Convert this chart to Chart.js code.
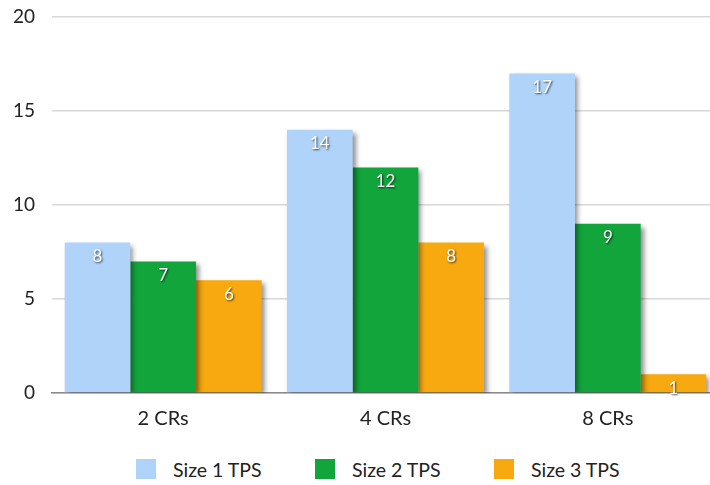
<!DOCTYPE html>
<html>
<head>
<meta charset="utf-8">
<script src="https://cdn.jsdelivr.net/npm/chart.js@4"></script>
<style>
  html, body { margin: 0; padding: 0; background: #fff; overflow: hidden; }
  #wrap { position: relative; width: 722px; height: 445px; }
  #legend { position: absolute; left: 136px; top: 459px; display: flex; font-family: Lato, "Open Sans", sans-serif; font-size: 19.5px; color: #222; }
  .item { display: flex; align-items: center; width: 179px; height: 20px; }
  .box { width: 20px; height: 20px; margin-right: 17px; }
</style>
</head>
<body>
<div id="wrap"><canvas id="tpsChart"></canvas></div>
<div id="legend"></div>
<script>
const categories = ['2 CRs', '4 CRs', '8 CRs'];
const seriesNames = ['Size 1 TPS', 'Size 2 TPS', 'Size 3 TPS'];
const size1 = [8, 14, 17];
const size2 = [7, 12, 9];
const size3 = [6, 8, 1];
const yTicks = [0, 5, 10, 15, 20];

const colors = ['#b0d4f9', '#12a53c', '#f7a90f'];
const FONT = 'Lato, "Open Sans", sans-serif';

// drop shadow under each bar
const barShadow = {
    id: 'barShadow',
    beforeDatasetDraw(chart) {
        const ctx = chart.ctx;
        ctx.save();
        ctx.shadowColor = 'rgba(0, 0, 0, 0.45)';
        ctx.shadowOffsetX = 3;
        ctx.shadowOffsetY = 3;
        ctx.shadowBlur = 5;
    },
    afterDatasetDraw(chart) {
        chart.ctx.restore();
    }
};

// white value labels inside the top of the bars
const valueLabels = {
    id: 'valueLabels',
    afterDatasetsDraw(chart) {
        const ctx = chart.ctx;
        ctx.save();
        ctx.font = '17px ' + FONT;
        ctx.fillStyle = '#fff';
        ctx.textAlign = 'center';
        ctx.textBaseline = 'middle';
        ctx.shadowColor = 'rgba(0, 0, 0, 0.7)';
        ctx.shadowOffsetX = 1;
        ctx.shadowOffsetY = 1;
        ctx.shadowBlur = 2;
        chart.data.datasets.forEach((ds, i) => {
            chart.getDatasetMeta(i).data.forEach((bar, j) => {
                ctx.fillText(String(ds.data[j]), bar.x, bar.y + 14);
            });
        });
        ctx.restore();
    }
};

const ctx = document.getElementById('tpsChart').getContext('2d');
new Chart(ctx, {
    type: 'bar',
    data: {
        labels: categories,
        datasets: [size1, size2, size3].map((d, i) => ({
            label: seriesNames[i],
            data: d,
            backgroundColor: colors[i],
            borderWidth: 0
        }))
    },
    options: {
        responsive: true,
        maintainAspectRatio: false,
        animation: false,
        categoryPercentage: 0.886,
        barPercentage: 1.0,
        layout: { padding: { top: 17, right: 3, bottom: 0, left: 0 } },
        plugins: {
            legend: { display: false },
            tooltip: { enabled: false }
        },
        scales: {
            x: {
                grid: { display: false, drawTicks: false },
                border: { display: true, color: '#8a8a8a', width: 1.5 },
                ticks: { color: '#222', padding: 14, font: { family: FONT, size: 20 } }
            },
            y: {
                min: 0,
                max: 20,
                afterFit(scale) {
                    scale.width = 52;
                    scale.paddingTop = 0;
                    scale.paddingBottom = 0;
                },
                afterBuildTicks(scale) { scale.ticks = yTicks.map(v => ({ value: v })); },
                grid: { color: '#d8d8d8', lineWidth: 1.5, drawTicks: false },
                border: { display: false },
                ticks: { color: '#222', padding: 17, font: { family: FONT, size: 19 } }
            }
        }
    },
    plugins: [barShadow, valueLabels]
});

// html legend
const legend = document.getElementById('legend');
seriesNames.forEach((name, i) => {
    const item = document.createElement('div');
    item.className = 'item';
    item.innerHTML = '<span class="box" style="background:' + colors[i] + '"></span><span>' + name + '</span>';
    legend.appendChild(item);
});
</script>
</body>
</html>
